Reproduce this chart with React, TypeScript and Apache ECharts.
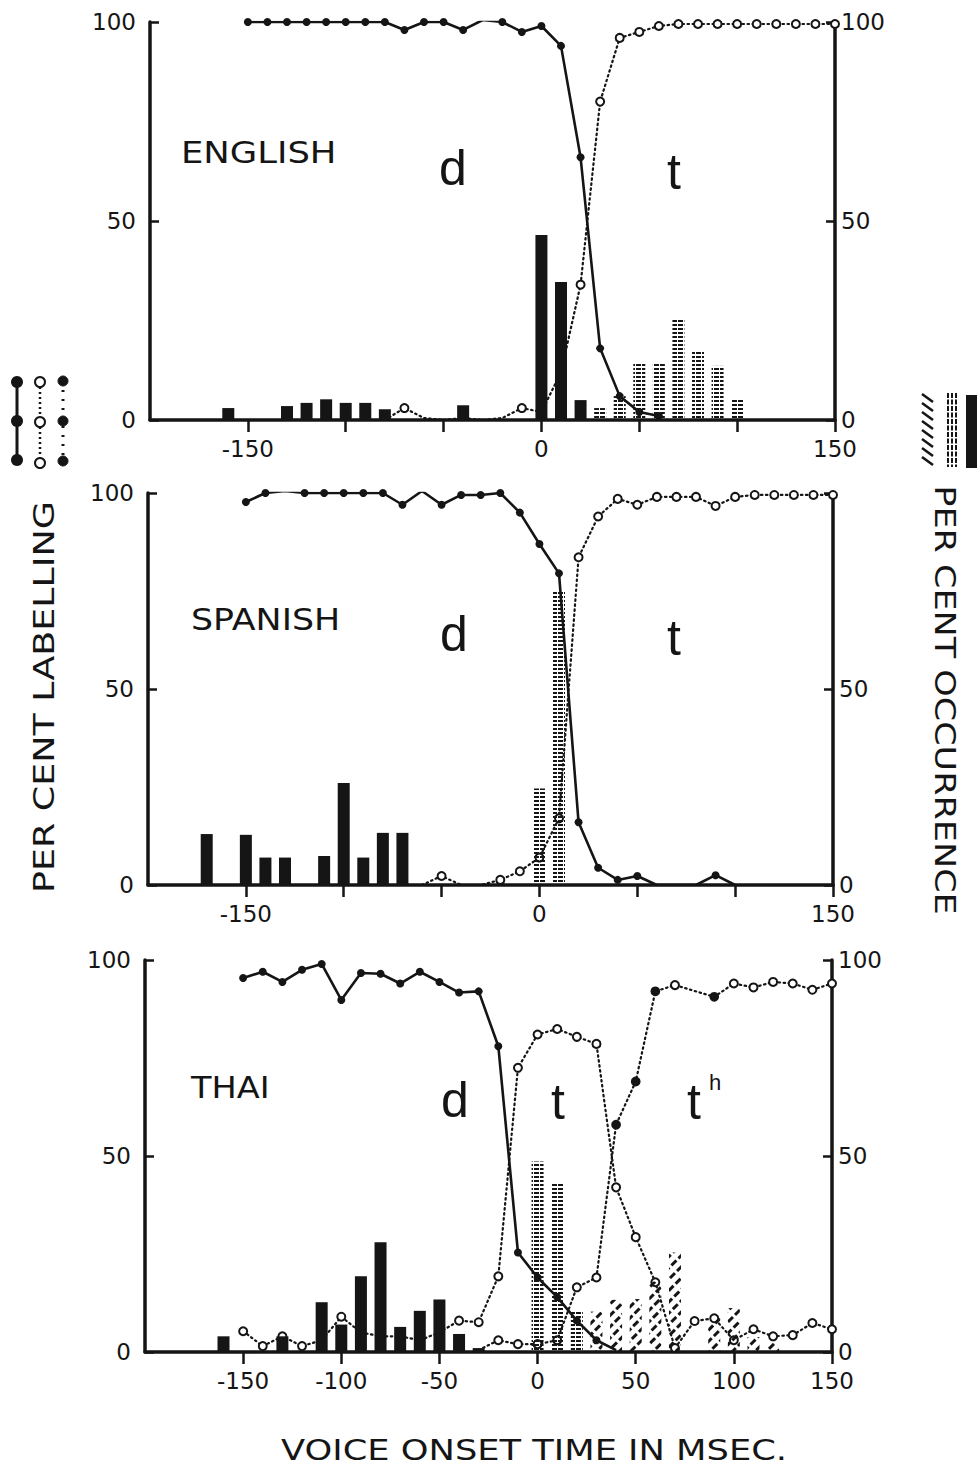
import React, { useEffect, useRef } from "react";
import * as echarts from "echarts";

type P = [number, number];

// ---------- ENGLISH ----------
const EN_LABEL_D: P[] = [
  [-150, 100], [-140, 100], [-130, 100], [-120, 100], [-110, 100], [-100, 100], [-90, 100],
  [-80, 100], [-70, 98], [-60, 100], [-50, 100], [-40, 98], [-30, 100.5], [-20, 100],
  [-10, 97.5], [0, 99], [10, 94], [20, 66], [30, 18], [40, 6], [50, 2], [60, 1],
];
const EN_LABEL_T: P[] = [
  [-80, 0], [-70, 3], [-60, 0.5], [-50, 0], [-40, 0.5], [-30, 0], [-20, 0.5], [-10, 3],
  [0, 2], [10, 12], [20, 34], [30, 80], [40, 96], [50, 97.5], [60, 99], [70, 99.5],
  [80, 99.5], [90, 99.5], [100, 99.5], [110, 99.5], [120, 99.5], [130, 99.5], [140, 99.5], [150, 99.5],
];
const EN_OCC_D: P[] = [
  [-160, 3], [-130, 3.5], [-120, 4.3], [-110, 5.2], [-100, 4.3], [-90, 4.3], [-80, 2.7],
  [-40, 3.7], [0, 46.5], [10, 34.7], [20, 5],
];
const EN_OCC_T: P[] = [
  [30, 3], [40, 6], [50, 14.3], [60, 14.3], [70, 25.3], [80, 17.4], [90, 13.6], [100, 5.5],
];

// ---------- SPANISH ----------
const SP_LABEL_D: P[] = [
  [-150, 97.7], [-140, 100], [-130, 100.5], [-120, 100], [-110, 100], [-100, 100], [-90, 100],
  [-80, 100], [-70, 97], [-60, 100.5], [-50, 97], [-40, 99.5], [-30, 99.5], [-20, 100],
  [-10, 95], [0, 87], [10, 79.5], [20, 16], [30, 4.4], [40, 1.3], [50, 2.3], [60, 0],
  [70, 0], [80, 0], [90, 2.5], [100, 0],
];
const SP_LABEL_T: P[] = [
  [-60, 0], [-50, 2.3], [-40, 0], [-30, 0], [-20, 1.3], [-10, 3.5], [0, 7], [10, 17],
  [20, 83.6], [30, 94], [40, 98.5], [50, 97], [60, 99], [70, 99], [80, 99], [90, 96.7],
  [100, 99], [110, 99.5], [120, 99.5], [130, 99.5], [140, 99.5], [150, 99.5],
];
const SP_OCC_D: P[] = [
  [-170, 13], [-150, 12.8], [-140, 7], [-130, 7], [-110, 7.4], [-100, 26], [-90, 7],
  [-80, 13.3], [-70, 13.3],
];
const SP_OCC_T: P[] = [[0, 24.6], [10, 75]];

// ---------- THAI ----------
const TH_LABEL_D: P[] = [
  [-150, 95.4], [-140, 97], [-130, 94.4], [-120, 97.5], [-110, 99], [-100, 89.8], [-90, 96.7],
  [-80, 96.5], [-70, 94], [-60, 97], [-50, 94.4], [-40, 91.7], [-30, 92], [-20, 78],
  [-10, 25.4], [0, 19], [10, 14], [20, 8], [30, 3], [40, 0.5],
];
const TH_LABEL_T: P[] = [
  [-150, 5.3], [-140, 1.5], [-130, 4], [-120, 1.5], [-110, 3], [-100, 9], [-90, 5], [-80, 4],
  [-70, 4], [-60, 3], [-50, 5], [-40, 8], [-30, 7.6], [-20, 19.3], [-10, 72.5], [0, 81],
  [10, 82.4], [20, 80.4], [30, 78.6], [40, 42], [50, 29.3], [60, 17.8], [70, 1], [80, 7.9],
  [90, 8.6], [100, 3], [110, 5.8], [120, 4], [130, 4.3], [140, 7.4], [150, 5.8],
];
const TH_LABEL_TH: P[] = [
  [-30, 0.5], [-20, 3], [-10, 2], [0, 2], [10, 3], [20, 16.5], [30, 19], [40, 58], [50, 69],
  [60, 92], [70, 93.6], [90, 90.6], [100, 94], [110, 93], [120, 94.4], [130, 94], [140, 92.4], [150, 94],
];
const TH_TH_FILLED = [40, 50, 60, 90];
const TH_OCC_D: P[] = [
  [-160, 4], [-130, 4], [-110, 12.7], [-100, 7], [-90, 19.3], [-80, 28], [-70, 6.4],
  [-60, 10.5], [-50, 13.4], [-40, 4.6], [-30, 1],
];
const TH_OCC_T: P[] = [[0, 48.6], [10, 43], [20, 10.7]];
const TH_OCC_TH: P[] = [
  [30, 10.3], [40, 13.3], [50, 13.5], [60, 18], [70, 25.4], [90, 8.6], [100, 11.2], [110, 3.8], [120, 2.3],
];

const X_TICKS = [-150, -100, -50, 0, 50, 100, 150];
const X_LABELS_SHORT = [-150, 0, 150];
const Y_TICKS = [0, 50, 100];

const INK = "#151515";
const F = "DejaVu Sans";

const GRIDS = [
  { left: 150, top: 22, width: 685, height: 398 },
  { left: 148, top: 493, width: 685, height: 392 },
  { left: 145, top: 960, width: 687, height: 392 },
];

const symSize = (v: any) => (v[1] <= 0.5 ? 0 : 8);

function xAxis(i: number, labels: number[]) {
  return {
    gridIndex: i,
    type: "value",
    min: -200,
    max: 150,
    interval: 50,
    axisLine: { show: true, onZero: false, lineStyle: { color: INK, width: 3.5 } },
    axisTick: { show: true, length: 12, inside: false, customValues: X_TICKS, lineStyle: { color: INK, width: 2.5 } },
    axisLabel: {
      show: true,
      customValues: labels,
      formatter: (v: number) => (labels.indexOf(v) >= 0 ? String(v) : ""),
      color: INK,
      fontSize: 23,
      fontFamily: F,
      margin: 17,
    },
    splitLine: { show: false },
  };
}

function yAxis(i: number, pos: "left" | "right", labels: number[]) {
  return {
    gridIndex: i,
    type: "value",
    position: pos,
    min: 0,
    max: 100,
    interval: 50,
    axisLine: { show: true, onZero: false, lineStyle: { color: INK, width: 3.5 } },
    axisTick: { show: true, inside: true, length: 9, customValues: Y_TICKS, lineStyle: { color: INK, width: 2.5 } },
    axisLabel: {
      show: true,
      customValues: labels,
      formatter: (v: number) => (labels.indexOf(v) >= 0 ? String(v) : ""),
      color: INK,
      fontSize: 23,
      fontFamily: F,
      margin: pos === "left" ? 14 : 6,
    },
    splitLine: { show: false },
  };
}

const STRIPE_DECAL = {
  symbol: "rect",
  symbolSize: 1,
  symbolKeepAspect: false,
  dashArrayX: [5, 1],
  dashArrayY: [2, 1.6],
  rotation: 0,
  color: INK,
  backgroundColor: "rgba(0,0,0,0)",
};
const HATCH_DECAL = {
  symbol: "rect",
  symbolSize: 1,
  symbolKeepAspect: false,
  dashArrayX: [7, 3],
  dashArrayY: [2.5, 4.5],
  rotation: -Math.PI / 4,
  color: INK,
  backgroundColor: "rgba(0,0,0,0)",
};

function dLine(i: number, data: P[]) {
  return {
    type: "line",
    xAxisIndex: i,
    yAxisIndex: 2 * i,
    data,
    symbol: "circle",
    symbolSize: symSize,
    lineStyle: { color: INK, width: 2.6 },
    itemStyle: { color: INK },
    z: 2,
  };
}
function tLine(i: number, data: any[], symbol = "emptyCircle") {
  return {
    type: "line",
    xAxisIndex: i,
    yAxisIndex: 2 * i,
    data,
    symbol,
    symbolSize: symSize,
    lineStyle: { color: INK, width: 2.2, type: [1.5, 3.5], cap: "round" },
    itemStyle: { color: INK, borderColor: INK, borderWidth: 1.8 },
    z: 2,
  };
}
function bars(i: number, data: P[], kind: "solid" | "stripe" | "hatch") {
  const itemStyle: any =
    kind === "solid"
      ? { color: INK }
      : { color: "rgba(0,0,0,0)", decal: kind === "stripe" ? STRIPE_DECAL : HATCH_DECAL };
  return {
    type: "bar",
    xAxisIndex: i,
    yAxisIndex: 2 * i,
    data,
    barWidth: 12,
    barGap: "-100%",
    itemStyle,
    z: 3,
  };
}

function txt(text: string, x: number, y: number, size: number, extra: any = {}) {
  return {
    type: "text",
    x,
    y,
    ...extra,
    style: {
      text,
      fill: INK,
      fontSize: size,
      fontFamily: extra.fontFamily || F,
      textAlign: extra.align || "left",
      textVerticalAlign: "middle",
    },
  };
}

function legendGraphics() {
  const g: any[] = [];
  // left: labelling curve symbols
  g.push({ type: "line", shape: { x1: 17, y1: 382, x2: 17, y2: 460 }, style: { stroke: INK, lineWidth: 3 } });
  [382, 421, 460].forEach((y) => g.push({ type: "circle", shape: { cx: 17, cy: y, r: 6 }, style: { fill: INK } }));
  g.push({ type: "line", shape: { x1: 40, y1: 382, x2: 40, y2: 463 }, style: { stroke: INK, lineWidth: 2.5, lineDash: [2, 3] } });
  [382, 422, 463].forEach((y) =>
    g.push({ type: "circle", shape: { cx: 40, cy: y, r: 5 }, style: { fill: "#fff", stroke: INK, lineWidth: 2 } })
  );
  g.push({ type: "line", shape: { x1: 63, y1: 381, x2: 63, y2: 461 }, style: { stroke: INK, lineWidth: 3, lineDash: [2, 7] } });
  [381, 421, 461].forEach((y) =>
    g.push({ type: "circle", shape: { cx: 63, cy: y, r: 5 }, style: { fill: INK, stroke: INK, lineWidth: 1 } })
  );
  // right: occurrence bar symbols
  for (let k = 0; k < 8; k++) {
    const y0 = 394 + k * 9;
    g.push({ type: "line", shape: { x1: 922, y1: y0, x2: 933, y2: y0 + 8 }, style: { stroke: INK, lineWidth: 2.5 } });
  }
  [948, 952, 956].forEach((x) =>
    g.push({ type: "line", shape: { x1: x, y1: 393, x2: x, y2: 467 }, style: { stroke: INK, lineWidth: 2, lineDash: [5, 1.5] } })
  );
  g.push({ type: "rect", shape: { x: 966, y: 395, width: 12, height: 73 }, style: { fill: INK } });
  return g;
}

export default function App() {
  const ref = useRef<HTMLDivElement>(null);
  useEffect(() => {
    document.body.style.margin = "0";
    const chart = echarts.init(ref.current!, undefined, { renderer: "svg" });
    const thData = TH_LABEL_TH.map(([x, y]) => ({
      value: [x, y],
      symbol: TH_TH_FILLED.indexOf(x) >= 0 ? "circle" : "emptyCircle",
    }));
    const option: any = {
      animation: false,
      backgroundColor: "#fff",
      grid: GRIDS,
      xAxis: [xAxis(0, X_LABELS_SHORT), xAxis(1, X_LABELS_SHORT), xAxis(2, X_TICKS)],
      yAxis: [
        yAxis(0, "left", Y_TICKS), yAxis(0, "right", Y_TICKS),
        yAxis(1, "left", Y_TICKS), yAxis(1, "right", [0, 50]),
        yAxis(2, "left", Y_TICKS), yAxis(2, "right", Y_TICKS),
      ],
      series: [
        dLine(0, EN_LABEL_D), tLine(0, EN_LABEL_T), bars(0, EN_OCC_D, "solid"), bars(0, EN_OCC_T, "stripe"),
        dLine(1, SP_LABEL_D), tLine(1, SP_LABEL_T), bars(1, SP_OCC_D, "solid"), bars(1, SP_OCC_T, "stripe"),
        dLine(2, TH_LABEL_D), tLine(2, TH_LABEL_T), tLine(2, thData, "circle"),
        bars(2, TH_OCC_D, "solid"), bars(2, TH_OCC_T, "stripe"), bars(2, TH_OCC_TH, "hatch"),
      ],
      graphic: [
        txt("ENGLISH", 181, 153, 30, { scaleX: 1.18 }),
        txt("d", 439, 168, 50, { fontFamily: "Liberation Sans" }),
        txt("t", 667, 172, 50, { fontFamily: "Liberation Sans" }),
        txt("SPANISH", 191, 620, 30, { scaleX: 1.16 }),
        txt("d", 440, 634, 50, { fontFamily: "Liberation Sans" }),
        txt("t", 667, 638, 50, { fontFamily: "Liberation Sans" }),
        txt("THAI", 191, 1088, 30, { scaleX: 1.12 }),
        txt("d", 441, 1100, 50, { fontFamily: "Liberation Sans" }),
        txt("t", 551, 1102, 50, { fontFamily: "Liberation Sans" }),
        txt("t", 687, 1102, 50, { fontFamily: "Liberation Sans" }),
        txt("h", 709, 1082, 22, { fontFamily: "Liberation Sans" }),
        txt("PER CENT LABELLING", 45, 697, 28, { rotation: Math.PI / 2, scaleX: 1.3, align: "center" }),
        txt("PER CENT OCCURRENCE", 945, 700, 28, { rotation: -Math.PI / 2, scaleX: 1.25, align: "center" }),
        txt("VOICE ONSET TIME IN MSEC.", 534, 1450, 28, { scaleX: 1.26, align: "center" }),
        ...legendGraphics(),
      ],
    };
    chart.setOption(option);
    return () => chart.dispose();
  }, []);
  return <div ref={ref} style={{ width: 977, height: 1470 }} />;
}
